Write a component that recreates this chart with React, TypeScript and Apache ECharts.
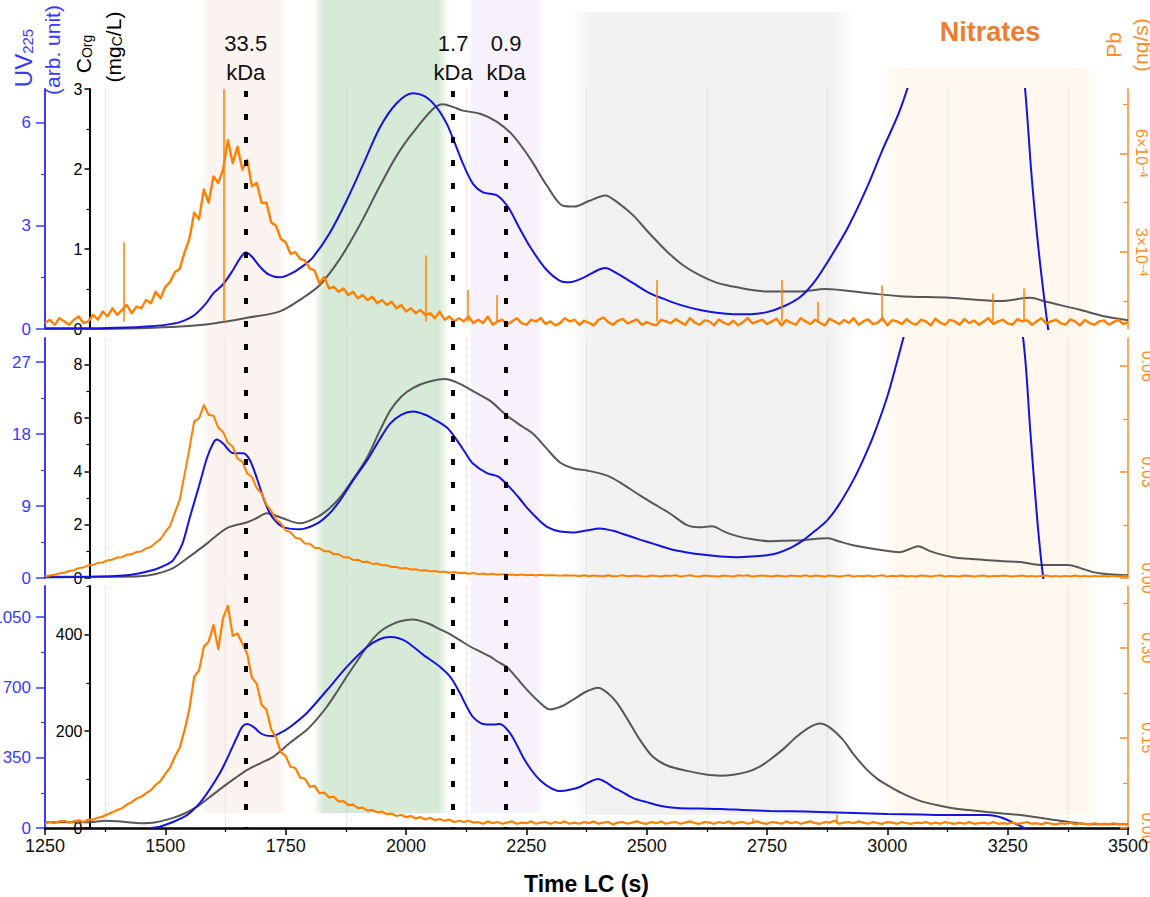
import React, { useEffect, useRef } from "react";
import * as echarts from "echarts";

// ================= DATA =================
const timeMin = 1250;
const timeMax = 3500;

// ---- Panel 1 (top) ----
const uv1Time = [1250,1350,1420,1460,1500,1530,1560,1585,1600,1620,1640,1655,1667,1680,1697,1715,1738,1760,1785,1807,1840,1877,1910,1946,1980,2013,2040,2064,2085,2100,2120,2140,2160,2189,2212,2235,2258,2290,2320,2340,2370,2400,2414,2440,2472,2505,2542,2575,2611,2645,2680,2715,2750,2785,2819,2850,2887,2920,2958,2990,3026,3060,3100,3150,3200,3250,3270,3286,3300,3315,3334,3345];
const uv1 = [0.02,0.02,0.04,0.07,0.12,0.2,0.4,0.75,1.04,1.3,1.7,2.05,2.22,2.1,1.8,1.58,1.5,1.6,1.82,2.09,2.75,3.74,4.75,5.86,6.55,6.85,6.75,6.43,5.95,5.45,4.75,4.2,3.97,3.88,3.54,2.95,2.38,1.75,1.4,1.36,1.5,1.72,1.77,1.6,1.33,1.05,0.84,0.68,0.55,0.47,0.43,0.43,0.49,0.66,0.93,1.4,2.2,3.0,4.12,5.2,6.35,7.8,9.8,12,12.5,10.5,9.0,7.0,4.4,2.2,0,-1];

const corg1Time = [1250,1350,1450,1530,1600,1670,1738,1786,1821,1863,1904,1946,1981,2015,2056,2077,2100,2118,2154,2189,2222,2258,2293,2326,2350,2380,2414,2440,2472,2505,2542,2575,2611,2645,2680,2715,2750,2819,2871,2958,3026,3130,3234,3297,3330,3400,3450,3500];
const corg1 = [0,0,0.01,0.03,0.07,0.14,0.22,0.39,0.55,0.88,1.3,1.79,2.17,2.46,2.75,2.81,2.77,2.73,2.69,2.59,2.42,2.13,1.79,1.54,1.53,1.6,1.67,1.58,1.42,1.2,0.97,0.8,0.67,0.58,0.53,0.49,0.47,0.47,0.5,0.45,0.41,0.39,0.35,0.39,0.34,0.24,0.16,0.11];

// Pb signal, sampled every 10 s from 1250 s (panel 1 in units of 1e-4 ng/s)
const pbTime = Array.from({ length: 226 }, (_, i) => timeMin + 10 * i);
const pb1 = [
  0.85,0.95,0.8,1.0,0.9,0.8,0.95,1.05,0.85,0.9,
  1.1,0.95,1.2,1.05,1.3,1.1,1.25,1.4,1.15,1.35,
  1.3,1.55,1.45,1.8,1.6,1.95,2.1,2.4,2.5,3.0,
  3.4,4.2,4.0,4.9,4.5,5.3,5.1,5.5,6.4,5.7,
  6.2,5.5,5.8,5.0,5.1,4.5,4.5,3.9,3.8,3.4,
  3.3,2.95,3.0,2.8,2.75,2.5,2.45,2.05,2.25,1.9,
  1.95,1.8,1.9,1.7,1.8,1.6,1.7,1.55,1.65,1.45,
  1.55,1.4,1.5,1.3,1.4,1.2,1.3,1.15,1.25,1.1,
  1.15,1.0,1.2,0.95,1.05,0.9,1.0,0.9,1.05,0.85,
  0.95,0.85,1.05,0.8,0.9,0.95,0.8,0.9,1.0,0.85,
  0.8,0.95,0.9,1.0,0.82,0.9,0.78,0.85,1.0,0.9,
  0.95,0.8,0.92,0.86,0.78,0.95,1.02,0.88,0.8,0.92,
  0.98,0.84,0.9,0.96,0.8,0.88,0.82,0.78,0.95,0.9,
  0.84,0.97,0.88,0.8,1.0,0.86,0.8,0.93,0.9,0.78,
  0.96,0.86,0.8,0.92,0.78,0.88,1.0,0.84,0.9,0.95,
  0.82,0.9,0.98,0.78,0.94,0.86,0.8,1.0,0.9,0.82,
  0.95,0.86,0.78,0.98,0.9,0.82,0.94,0.85,1.0,0.8,
  0.9,0.96,0.82,0.86,1.0,0.78,0.94,0.9,0.82,0.97,
  0.85,0.8,0.95,0.9,0.78,0.98,0.86,0.8,0.95,0.9,
  0.8,0.97,0.85,0.93,0.8,0.9,1.0,0.82,0.9,0.95,
  0.84,0.8,0.97,0.9,0.94,0.8,0.9,1.0,0.84,0.9,
  0.95,0.85,0.8,0.96,0.9,0.78,0.94,0.85,0.8,0.9,
  0.93,0.8,0.88,0.95,0.82,0.88,
];
const pb1SpikeTime = [1414,1622,2040,2129,2189,2520,2781,2856,2989,3220,3283];
const pb1SpikeValue = [3.3,7.95,2.9,1.85,1.7,2.15,2.15,1.5,2.0,1.75,1.9];
const pb1SpikeBase = 0.9;

// ---- Panel 2 (middle) ----
const uv2Time = [1250,1350,1420,1447,1480,1500,1516,1535,1551,1570,1587,1600,1607,1620,1641,1662,1676,1690,1705,1720,1744,1780,1815,1840,1863,1890,1919,1945,1967,1990,2015,2040,2056,2085,2106,2125,2139,2168,2191,2216,2235,2251,2275,2293,2320,2347,2375,2403,2430,2451,2486,2513,2550,2584,2620,2653,2690,2721,2750,2771,2800,2825,2850,2875,2900,2929,2950,2970,2999,3020,3040,3080,3150,3250,3282,3297,3311,3324,3335];
const uv2 = [0.1,0.15,0.35,0.6,1.1,1.6,2.2,4.2,7.6,11.5,15.1,16.9,17.3,16.8,15.6,15.6,14.7,12.5,9.8,7.8,6.4,6.1,6.8,8.0,9.7,12.2,14.7,17.3,19.3,20.4,20.8,20.4,19.9,18.8,17.2,15.5,14.3,13.1,12.7,11.3,10.0,8.8,7.3,6.4,5.8,5.7,5.95,6.2,5.9,5.5,4.8,4.3,3.6,3.2,2.9,2.7,2.6,2.7,2.85,3.1,3.8,4.7,5.9,7.2,9.2,12.2,14.8,17.6,22.5,27,31.5,40,45,40,30,18.4,7.6,0,-3];

const corg2Time = [1250,1350,1447,1480,1516,1550,1587,1628,1670,1690,1711,1744,1780,1815,1840,1863,1890,1919,1945,1967,1990,2015,2045,2081,2112,2140,2175,2210,2240,2264,2290,2320,2350,2376,2418,2445,2486,2513,2550,2584,2610,2636,2660,2688,2720,2756,2790,2825,2860,2877,2900,2929,2970,3026,3045,3064,3090,3136,3170,3207,3240,3276,3317,3376,3400,3427,3460,3500];
const corg2 = [0.05,0.05,0.07,0.15,0.37,0.8,1.3,1.87,2.09,2.25,2.43,2.24,2.05,2.28,2.6,3.02,3.7,4.51,5.5,6.27,6.8,7.13,7.35,7.46,7.28,7.0,6.64,6.08,5.7,5.41,4.9,4.33,4.1,4.03,3.84,3.58,3.1,2.8,2.4,1.98,1.9,1.94,1.75,1.57,1.45,1.38,1.4,1.42,1.48,1.49,1.37,1.23,1.1,0.97,1.08,1.19,1.0,0.78,0.72,0.67,0.63,0.6,0.49,0.49,0.38,0.22,0.14,0.1];

const pb2 = [
  0.0004,0.0007,0.0009,0.0013,0.0015,0.0020,0.0022,0.0028,0.0030,0.0036,
  0.0037,0.0043,0.0044,0.0050,0.0052,0.0058,0.0059,0.0066,0.0067,0.0074,
  0.0075,0.0084,0.0088,0.0100,0.0110,0.0131,0.0148,0.0186,0.0222,0.0294,
  0.0366,0.0444,0.0452,0.0490,0.0462,0.0460,0.0426,0.0414,0.0383,0.0372,
  0.0338,0.0330,0.0296,0.0286,0.0254,0.0240,0.0207,0.0190,0.0165,0.0155,
  0.0135,0.0130,0.0114,0.0111,0.0098,0.0097,0.0086,0.0085,0.0076,0.0076,
  0.0067,0.0067,0.0059,0.0059,0.0051,0.0052,0.0045,0.0046,0.0040,0.0041,
  0.0036,0.0036,0.0031,0.0031,0.0027,0.0028,0.0024,0.0025,0.0021,0.0022,
  0.0019,0.0020,0.0017,0.0018,0.0015,0.0017,0.0014,0.0015,0.0012,0.0014,
  0.0011,0.0013,0.0010,0.0012,0.0009,0.0011,0.0009,0.0010,0.0008,0.0010,
  0.0008,0.0009,0.0007,0.0009,0.0007,0.0008,0.0008,0.0006,0.0008,0.0007,
  0.0007,0.0005,0.0008,0.0005,0.0007,0.0006,0.0005,0.0008,0.0005,0.0006,
  0.0008,0.0005,0.0006,0.0007,0.0005,0.0004,0.0007,0.0006,0.0004,0.0007,
  0.0006,0.0008,0.0004,0.0006,0.0008,0.0005,0.0004,0.0007,0.0006,0.0005,
  0.0004,0.0007,0.0006,0.0004,0.0008,0.0006,0.0008,0.0004,0.0006,0.0007,
  0.0006,0.0004,0.0007,0.0006,0.0004,0.0007,0.0006,0.0005,0.0008,0.0004,
  0.0007,0.0006,0.0004,0.0007,0.0006,0.0004,0.0006,0.0008,0.0004,0.0006,
  0.0005,0.0007,0.0004,0.0006,0.0008,0.0004,0.0006,0.0005,0.0007,0.0004,
  0.0006,0.0004,0.0007,0.0006,0.0004,0.0006,0.0008,0.0004,0.0006,0.0005,
  0.0004,0.0007,0.0006,0.0004,0.0006,0.0007,0.0004,0.0006,0.0005,0.0007,
  0.0006,0.0004,0.0006,0.0007,0.0004,0.0006,0.0004,0.0006,0.0007,0.0004,
  0.0006,0.0004,0.0006,0.0004,0.0007,0.0004,0.0006,0.0004,0.0006,0.0004,
  0.0006,0.0004,0.0006,0.0004,0.0006,0.0005,
];

// ---- Panel 3 (bottom) ----
const uv3Time = [1470,1490,1516,1535,1551,1570,1587,1605,1620,1635,1649,1660,1670,1685,1697,1710,1722,1740,1759,1794,1836,1877,1919,1945,1967,1985,2002,2036,2071,2092,2112,2125,2139,2160,2180,2195,2216,2230,2243,2260,2278,2300,2320,2340,2361,2380,2399,2415,2430,2445,2472,2500,2530,2563,2610,2653,2700,2756,2800,2860,2930,2999,3070,3136,3207,3225,3240,3260,3280,3290];
const uv3 = [0,8,30,50,75,120,174,240,304,380,453,505,518,500,473,460,458,475,503,573,687,802,901,940,951,945,926,862,802,752,672,610,553,518,515,518,473,415,354,290,239,200,184,190,204,228,244,228,204,185,149,129,110,100,97,95,90,85,83,80,75,70,67,65,65,60,50,28,5,-10];

const corg3Time = [1250,1300,1343,1375,1400,1447,1480,1516,1540,1566,1590,1620,1645,1670,1700,1724,1759,1794,1815,1836,1857,1877,1900,1919,1935,1952,1970,1988,2013,2030,2050,2070,2092,2112,2133,2155,2175,2190,2210,2230,2251,2275,2299,2325,2347,2375,2399,2420,2438,2460,2486,2513,2545,2584,2620,2653,2680,2709,2735,2756,2785,2812,2840,2860,2880,2908,2930,2958,2980,2999,3030,3068,3100,3136,3170,3207,3240,3276,3310,3344,3380,3415,3483,3500];
const corg3 = [12,12,12,15,14,10,12,21,30,44,62,85,103,120,135,147,176,203,225,251,282,313,347,375,395,410,420,427,431,428,421,411,400,388,375,364,354,344,332,310,286,262,245,252,265,282,290,278,259,225,182,147,128,118,111,108,110,116,127,141,164,189,209,216,208,182,152,120,101,89,72,56,48,41,37,33,30,27,22,17,12,8,8,8];

const pb3 = [
  0.007,0.010,0.008,0.011,0.012,0.009,0.011,0.013,0.010,0.014,
  0.014,0.017,0.019,0.023,0.026,0.030,0.033,0.039,0.043,0.049,
  0.052,0.058,0.063,0.072,0.078,0.090,0.101,0.119,0.134,0.163,
  0.198,0.252,0.262,0.302,0.310,0.338,0.298,0.350,0.370,0.320,
  0.324,0.307,0.290,0.250,0.240,0.205,0.197,0.164,0.151,0.126,
  0.120,0.102,0.100,0.084,0.082,0.069,0.070,0.058,0.059,0.051,
  0.052,0.044,0.045,0.038,0.039,0.033,0.034,0.029,0.030,0.026,
  0.027,0.023,0.024,0.020,0.022,0.018,0.020,0.016,0.018,0.014,
  0.017,0.013,0.015,0.012,0.014,0.010,0.012,0.010,0.012,0.009,
  0.010,0.007,0.011,0.008,0.010,0.007,0.009,0.011,0.007,0.009,
  0.008,0.011,0.007,0.009,0.010,0.007,0.010,0.008,0.011,0.007,
  0.009,0.007,0.010,0.008,0.011,0.007,0.009,0.010,0.006,0.009,
  0.010,0.007,0.009,0.011,0.008,0.007,0.010,0.008,0.011,0.007,
  0.009,0.010,0.007,0.009,0.011,0.008,0.007,0.010,0.009,0.007,
  0.010,0.008,0.011,0.007,0.009,0.010,0.007,0.009,0.011,0.008,
  0.007,0.010,0.009,0.007,0.011,0.008,0.010,0.007,0.009,0.011,
  0.008,0.007,0.010,0.009,0.012,0.007,0.009,0.010,0.008,0.011,
  0.009,0.007,0.010,0.008,0.007,0.010,0.009,0.007,0.010,0.008,
  0.007,0.009,0.008,0.010,0.007,0.009,0.007,0.010,0.008,0.007,
  0.009,0.007,0.010,0.007,0.008,0.009,0.007,0.010,0.007,0.008,
  0.007,0.009,0.007,0.008,0.010,0.007,0.008,0.006,0.009,0.007,
  0.006,0.008,0.007,0.009,0.006,0.008,0.007,0.006,0.008,0.006,
  0.007,0.006,0.008,0.006,0.007,0.006,
];
const pb3SpikeTime = [2720,2895];
const pb3SpikeValue = [0.016,0.022];
const pb3SpikeBase = 0.008;

// Fraction annotations
const bandStart = [1575, 1807, 2128, 2343, 2985];
const bandEnd = [1752, 2090, 2285, 2929, 3442];
const bandRGB = ["241,209,197", "95,170,95", "219,199,235", "200,200,200", "255,225,190"];
const kdaTime = [1667, 2098, 2208];
const kdaLabel = ["33.5\nkDa", "1.7\nkDa", "0.9\nkDa"];

// Axis tick values
const uvAxes = [
  { min: 0, max: 6.97, major: [0, 3, 6], minor: [1.5, 4.5] },
  { min: 0, max: 30, major: [0, 9, 18, 27], minor: [4.5, 13.5, 22.5] },
  { min: 0, max: 1205, major: [0, 350, 700, 1050], minor: [175, 525, 875] },
];
const corgAxes = [
  { min: 0, max: 3, major: [0, 1, 2, 3], minor: [0.5, 1.5, 2.5] },
  { min: 0, max: 9, major: [0, 2, 4, 6, 8], minor: [1, 3, 5, 7] },
  { min: 0, max: 500, major: [0, 200, 400], minor: [100, 300, 500] },
];
const pbAxes = [
  { min: 0.67, max: 7.95, major: [3, 6], minor: [1.5, 4.5, 7.5] },
  { min: 0, max: 0.068, major: [0, 0.03, 0.06], minor: [0.015, 0.045] },
  { min: 0, max: 0.403, major: [0, 0.15, 0.3], minor: [0.075, 0.225, 0.375] },
];

// ================= LAYOUT / STYLE =================
const FONT = "'Liberation Sans', Arial, Helvetica, sans-serif";
const BLUE_AXIS = "#3a3aff";
const BLUE_LINE = "#1414e0";
const GREY_LINE = "#575757";
const ORANGE_LINE = "#ff8000";
const ORANGE_AXIS = "#ff8c28";
const GRID_LEFT = 45;
const GRID_RIGHT = 22;
const panelLayout = [
  { top: 89, height: 240, pbWidth: 2.4 },
  { top: 338, height: 240, pbWidth: 2 },
  { top: 586, height: 242, pbWidth: 2.2 },
];
const bandLayout = [
  { top: 0, bottom: 813 },
  { top: 0, bottom: 813 },
  { top: 0, bottom: 813 },
  { top: 12, bottom: 815 },
  { top: 67, bottom: 815 },
];

const pairs = (t: number[], v: number[]) => t.map((x, i) => [x, v[i]]);
const plain = (v: number) => String(v);

function makeAxes(gridIndex: number, cfg: any, s: any) {
  const main = {
    type: "value",
    gridIndex,
    position: s.position,
    offset: s.offset,
    min: cfg.min,
    max: cfg.max,
    axisLine: { show: true, onZero: false, lineStyle: { color: s.color, width: s.lineWidth } },
    axisTick: {
      show: true,
      inside: s.inside,
      length: s.majorLen,
      customValues: cfg.major,
      lineStyle: { color: s.color, width: 1.5 },
    },
    axisLabel: {
      show: true,
      customValues: cfg.major,
      color: s.color,
      fontSize: s.fontSize,
      fontFamily: FONT,
      margin: s.margin,
      rotate: s.rotate || 0,
      formatter: s.formatter || plain,
      rich: s.rich,
    },
    splitLine: { show: false },
  };
  const minor = {
    type: "value",
    gridIndex,
    position: s.position,
    offset: s.offset,
    min: cfg.min,
    max: cfg.max,
    axisLine: { show: false },
    axisTick: {
      show: true,
      inside: s.inside,
      length: s.minorLen,
      customValues: cfg.minor,
      lineStyle: { color: s.color, width: 1.2 },
    },
    axisLabel: { show: false },
    splitLine: { show: false },
  };
  return [main, minor];
}

function rotatedText(text: string, x: number, y: number, color: string, fontSize: number, rich?: any) {
  return {
    type: "text",
    x,
    y,
    rotation: Math.PI / 2,
    z: 100,
    style: {
      text,
      fill: color,
      fontSize,
      fontFamily: FONT,
      align: "center",
      verticalAlign: "middle",
      rich,
    },
  };
}

function buildOption() {
  const grids: any[] = panelLayout.map((p) => ({
    left: GRID_LEFT,
    right: GRID_RIGHT,
    top: p.top,
    height: p.height,
    outerBoundsMode: "none",
    containLabel: false,
  }));
  grids.push({ left: GRID_LEFT, right: GRID_RIGHT, top: 0, height: 828, outerBoundsMode: "none", containLabel: false });

  const xAxes = [0, 1, 2, 3].map((i) => ({
    type: "value",
    gridIndex: i,
    min: timeMin,
    max: timeMax,
    interval: 250,
    show: i !== 3,
    axisLine: { show: i === 2, onZero: false, lineStyle: { color: "#000", width: 2.5 } },
    axisTick: { show: i === 2, length: 7, lineStyle: { color: "#000", width: 1.5 } },
    minorTick: { show: i === 2, splitNumber: 2, length: 4, lineStyle: { color: "#000", width: 1.2 } },
    axisLabel: { show: i === 2, fontSize: 18, color: "#111", margin: 9, fontFamily: FONT, formatter: plain },
    splitLine: { show: false },
    minorSplitLine: { show: i !== 3, lineStyle: { color: "#d6d6d6", type: "dotted", width: 1 } },
    name: i === 2 ? "Time LC (s)" : "",
    nameLocation: "middle",
    nameGap: 44,
    nameTextStyle: { fontSize: 23, fontWeight: "bold", color: "#000", fontFamily: FONT },
  }));

  const yAxes: any[] = [];
  panelLayout.forEach((_, i) => {
    yAxes.push(
      ...makeAxes(i, uvAxes[i], {
        position: "left", offset: 0, color: BLUE_AXIS, lineWidth: 2, inside: false,
        majorLen: 9, minorLen: 4, fontSize: 17, margin: 14,
      })
    );
    yAxes.push(
      ...makeAxes(i, corgAxes[i], {
        position: "left", offset: -44.5, color: "#000", lineWidth: 2, inside: false,
        majorLen: 5, minorLen: 3, fontSize: 16, margin: 7,
      })
    );
    yAxes.push(
      ...makeAxes(i, pbAxes[i], {
        position: "right", offset: 0, color: ORANGE_AXIS, lineWidth: 1.5, inside: true,
        majorLen: 8, minorLen: 5, fontSize: 16, margin: i === 0 ? 5 : 11, rotate: -90,
        formatter: i === 0 ? (v: number) => `${v}×10{sup|−4}` : (v: number) => v.toFixed(2),
        rich: { sup: { fontSize: 11, color: ORANGE_AXIS, verticalAlign: "top", fontFamily: FONT } },
      })
    );
  });
  yAxes.push({ type: "value", gridIndex: 3, min: 0, max: 828, inverse: true, show: false });

  const uvData = [pairs(uv1Time, uv1), pairs(uv2Time, uv2), pairs(uv3Time, uv3)];
  const corgData = [pairs(corg1Time, corg1), pairs(corg2Time, corg2), pairs(corg3Time, corg3)];
  const pbData = [pairs(pbTime, pb1), pairs(pbTime, pb2), pairs(pbTime, pb3)];
  const spikes = [
    pb1SpikeTime.map((t, k) => [{ coord: [t, pb1SpikeBase] }, { coord: [t, pb1SpikeValue[k]] }]),
    [],
    pb3SpikeTime.map((t, k) => [{ coord: [t, pb3SpikeBase] }, { coord: [t, pb3SpikeValue[k]] }]),
  ];

  const series: any[] = [];
  panelLayout.forEach((p, i) => {
    series.push({
      type: "line", name: `corg${i}`, xAxisIndex: i, yAxisIndex: 6 * i + 2, data: corgData[i],
      smooth: 0.3, symbol: "none", silent: true, z: 2,
      lineStyle: { color: GREY_LINE, width: 2 },
    });
    series.push({
      type: "line", name: `uv${i}`, xAxisIndex: i, yAxisIndex: 6 * i, data: uvData[i],
      smooth: 0.3, symbol: "none", silent: true, z: 3,
      lineStyle: { color: BLUE_LINE, width: 2 },
    });
    series.push({
      type: "line", name: `pb${i}`, xAxisIndex: i, yAxisIndex: 6 * i + 4, data: pbData[i],
      symbol: "none", silent: true, z: 4,
      lineStyle: { color: ORANGE_LINE, width: p.pbWidth, join: "round" },
      markLine: spikes[i].length
        ? {
            symbol: ["none", "none"], silent: true, animation: false,
            label: { show: false },
            lineStyle: { color: ORANGE_LINE, width: 1.5, type: "solid" },
            emphasis: { disabled: true },
            data: spikes[i],
          }
        : undefined,
    });
  });

  // translucent bands over everything
  series.push({
    type: "line", name: "bands", xAxisIndex: 3, yAxisIndex: 18, data: [], z: 6, silent: true,
    markArea: {
      silent: true,
      data: bandStart.map((s, k) => [
        {
          xAxis: s,
          yAxis: bandLayout[k].top,
          itemStyle: {
            color: new echarts.graphic.LinearGradient(0, 0, 1, 0, [
              { offset: 0, color: `rgba(${bandRGB[k]},0)` },
              { offset: 0.08, color: `rgba(${bandRGB[k]},0.25)` },
              { offset: 0.92, color: `rgba(${bandRGB[k]},0.25)` },
              { offset: 1, color: `rgba(${bandRGB[k]},0)` },
            ]),
          },
        },
        { xAxis: bandEnd[k], yAxis: bandLayout[k].bottom },
      ]),
    },
  });

  series.push({
    type: "line", name: "kda", xAxisIndex: 3, yAxisIndex: 18, data: [], z: 8, silent: true,
    markLine: {
      symbol: ["none", "none"], silent: true, animation: false,
      lineStyle: { color: "#000", width: 4, type: [6, 17] },
      emphasis: { disabled: true },
      label: {
        show: true, position: "start", formatter: (p: any) => p.name,
        fontSize: 22, lineHeight: 29, color: "#111", fontFamily: FONT, distance: 4,
      },
      data: kdaTime.map((t, k) => [{ coord: [t, 91], name: kdaLabel[k] }, { coord: [t, 828] }]),
    },
  });

  const graphic = [
    {
      type: "text", x: 990, y: 32, z: 100,
      style: { text: "Nitrates", fill: "#ED7D31", fontSize: 27, fontWeight: "bold", fontFamily: FONT, align: "center", verticalAlign: "middle" },
    },
    rotatedText("{m|UV}{s|225}", 23, 58, BLUE_AXIS, 24, {
      m: { fontSize: 24, fill: BLUE_AXIS, color: BLUE_AXIS, fontFamily: FONT },
      s: { fontSize: 15, fill: BLUE_AXIS, color: BLUE_AXIS, verticalAlign: "bottom", fontFamily: FONT },
    }),
    rotatedText("(arb. unit)", 52, 50, BLUE_AXIS, 21),
    rotatedText("{m|C}{s|Org}", 83, 54, "#000", 21, {
      m: { fontSize: 21, fill: "#000", color: "#000", fontFamily: FONT },
      s: { fontSize: 14, fill: "#000", color: "#000", verticalAlign: "bottom", fontFamily: FONT },
    }),
    rotatedText("{m|(mg}{s|C}{m|/L)}", 113, 47, "#000", 21, {
      m: { fontSize: 21, fill: "#000", color: "#000", fontFamily: FONT },
      s: { fontSize: 14, fill: "#000", color: "#000", verticalAlign: "bottom", fontFamily: FONT },
    }),
    rotatedText("Pb", 1113, 45, ORANGE_AXIS, 21),
    rotatedText("(ng/s)", 1140, 45, ORANGE_AXIS, 21),
  ];

  return {
    animation: false,
    backgroundColor: "#ffffff",
    textStyle: { fontFamily: FONT },
    grid: grids,
    xAxis: xAxes,
    yAxis: yAxes,
    series,
    graphic,
  };
}

export default function App() {
  const ref = useRef<HTMLDivElement>(null);
  useEffect(() => {
    if (!ref.current) return;
    const chart = echarts.init(ref.current, undefined, { renderer: "svg" });
    chart.setOption(buildOption() as any);
    return () => chart.dispose();
  }, []);
  return (
    <div
      ref={ref}
      style={{ position: "fixed", left: 0, top: 0, width: 1150, height: 897, background: "#fff" }}
    />
  );
}
